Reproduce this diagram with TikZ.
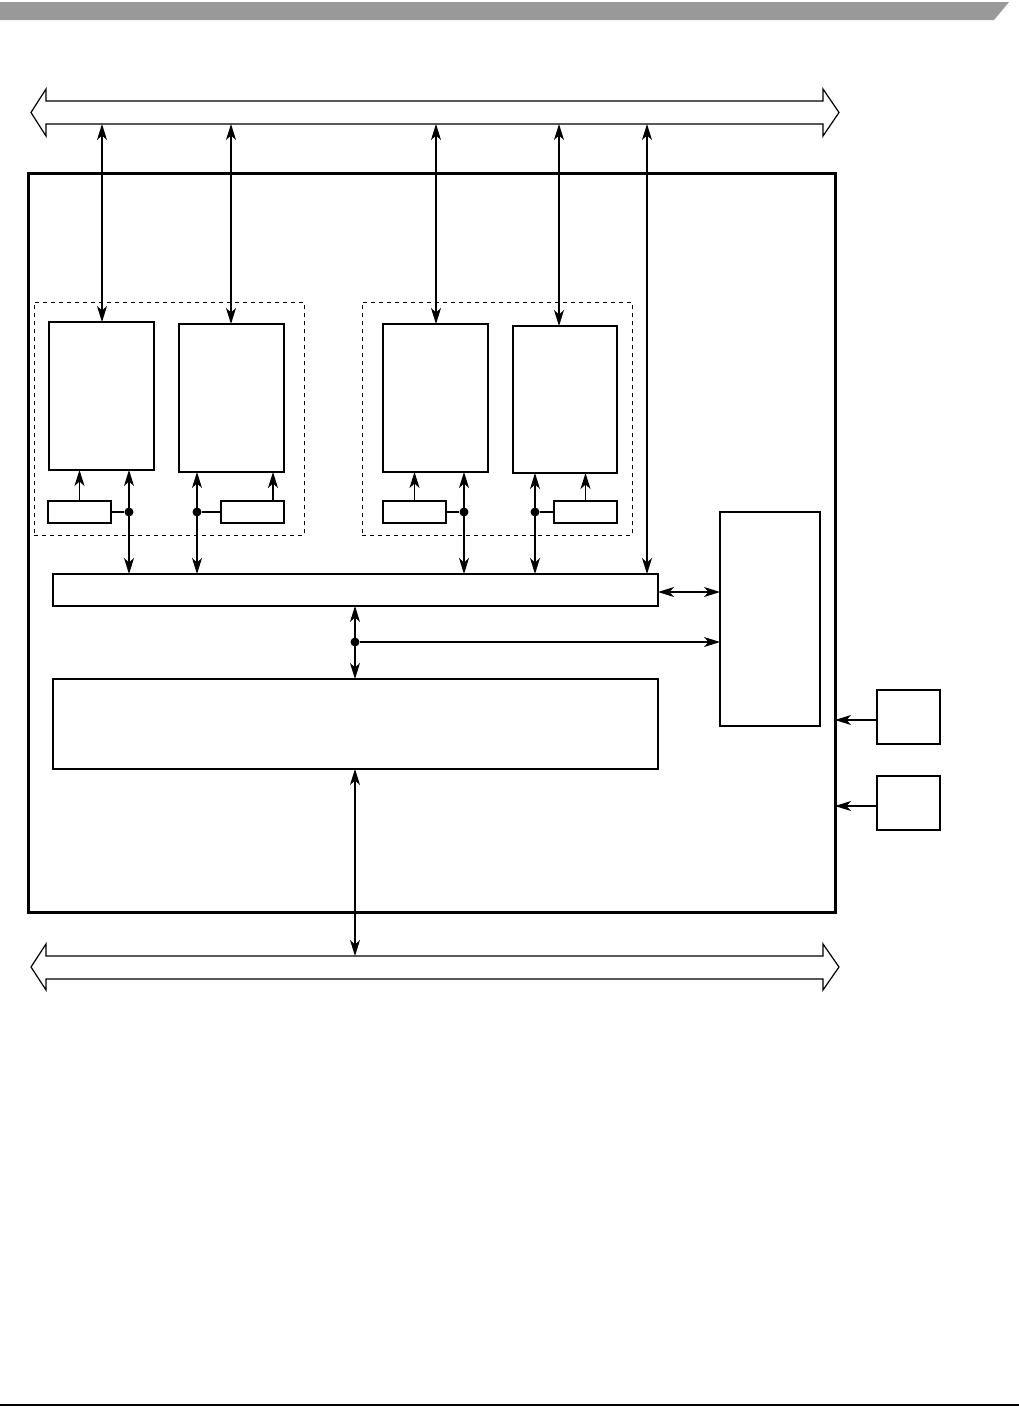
\documentclass[tikz,border=0pt]{standalone}
\usetikzlibrary{arrows.meta}
\definecolor{hdrgray}{RGB}{153,153,153}
\tikzset{
  >={Stealth[length=16pt,width=10pt,inset=4.5pt]},
  blk/.style={draw,line width=1.2pt,inner sep=0pt,outer sep=0pt,anchor=north west},
  grp/.style={draw,dashed,dash pattern=on 4pt off 4pt,line width=0.9pt,inner sep=0pt,anchor=north west},
  dotnode/.style={circle,fill,inner sep=0pt,minimum size=9pt},
  link/.style={line width=1.2pt},
  bidir/.style={link,<->},
  uni/.style={link,->},
  bus/.style={draw,line width=1.2pt,fill=white}
}
\begin{document}
\begin{tikzpicture}[x=1pt,y=-1pt]
\useasboundingbox (0,0) rectangle (1019,1419);
\fill[hdrgray] (0,2) -- (1009,2) -- (994,20) -- (0,20) -- cycle;
\draw[line width=2pt] (0,1405) -- (1019,1405);
\draw[bus] (31,112.5) -- (46,89) -- (46,101) -- (823,101) -- (823,89) -- (839,112.5)
  -- (823,136) -- (823,124) -- (46,124) -- (46,136) -- cycle;
\draw[bus] (31,967) -- (46,944) -- (46,956) -- (823,956) -- (823,944) -- (839,967)
  -- (823,990) -- (823,979) -- (46,979) -- (46,990) -- cycle;
\coordinate (t1) at (102,124);
\coordinate (t2) at (231,124);
\coordinate (t3) at (436,124);
\coordinate (t4) at (559,124);
\coordinate (t5) at (647,124);
\coordinate (bb) at (355,956);
\node[blk,line width=3pt,minimum width=807pt,minimum height=739pt] (soc) at (28,173) {};
\node[grp,minimum width=270pt,minimum height=233pt] (g1) at (34,302) {};
\node[grp,minimum width=270pt,minimum height=233pt] (g2) at (362,302) {};
\node[blk,minimum width=105pt,minimum height=148pt] (A1) at (49,322) {};
\node[blk,minimum width=105pt,minimum height=148pt] (A2) at (179,324) {};
\node[blk,minimum width=105pt,minimum height=148pt] (B1) at (383,324) {};
\node[blk,minimum width=104pt,minimum height=147pt] (B2) at (513,326) {};
\node[blk,minimum width=63pt,minimum height=22pt] (a1) at (48,501) {};
\node[blk,minimum width=63pt,minimum height=22pt] (a2) at (221,501) {};
\node[blk,minimum width=63pt,minimum height=22pt] (b1) at (383,501) {};
\node[blk,minimum width=63pt,minimum height=22pt] (b2) at (554,501) {};
\node[blk,minimum width=605pt,minimum height=32pt] (xbar) at (53,574) {};
\node[blk,minimum width=605pt,minimum height=90pt] (mem) at (53,679) {};
\node[blk,minimum width=100pt,minimum height=214pt] (ctl) at (720,512) {};
\node[blk,minimum width=63pt,minimum height=54pt] (r1) at (877,690) {};
\node[blk,minimum width=63pt,minimum height=54pt] (r2) at (877,776) {};
\node[dotnode] (d1) at (129,512) {};
\node[dotnode] (d2) at (197,512) {};
\node[dotnode] (d3) at (464,512) {};
\node[dotnode] (d4) at (535,512) {};
\node[dotnode] (d5) at (355,642) {};
\coordinate (a2up) at (273,501);
\coordinate (xr) at (658,592);
\coordinate (r1l) at (877,720);
\coordinate (r2l) at (877,806);
\draw[bidir] (t1) -- (t1 |- A1.north);
\draw[bidir] (t2) -- (t2 |- A2.north);
\draw[bidir] (t3) -- (t3 |- B1.north);
\draw[bidir] (t4) -- (t4 |- B2.north);
\draw[bidir] (t5) -- (t5 |- xbar.north);
\draw[uni] (a1.north) -- (a1.north |- A1.south);
\draw[uni] (a2up) -- (a2up |- A2.south);
\draw[uni] (b1.north) -- (b1.north |- B1.south);
\draw[uni] (b2.north) -- (b2.north |- B2.south);
\draw[bidir] (d1 |- A1.south) -- (d1 |- xbar.north);
\draw[bidir] (d2 |- A2.south) -- (d2 |- xbar.north);
\draw[bidir] (d3 |- B1.south) -- (d3 |- xbar.north);
\draw[bidir] (d4 |- B2.south) -- (d4 |- xbar.north);
\draw[link] (a1.east) -- (d1);
\draw[link] (d2) -- (a2.west);
\draw[link] (b1.east) -- (d3);
\draw[link] (d4) -- (b2.west);
\draw[bidir] (d5 |- xbar.south) -- (d5 |- mem.north);
\draw[uni] (d5) -- (d5 -| ctl.west);
\draw[bidir] (xr) -- (xr -| ctl.west);
\draw[bidir] (mem.south -| bb) -- (bb);
\draw[uni] (r1l) -- (r1l -| soc.east);
\draw[uni] (r2l) -- (r2l -| soc.east);
\end{tikzpicture}
\end{document}
